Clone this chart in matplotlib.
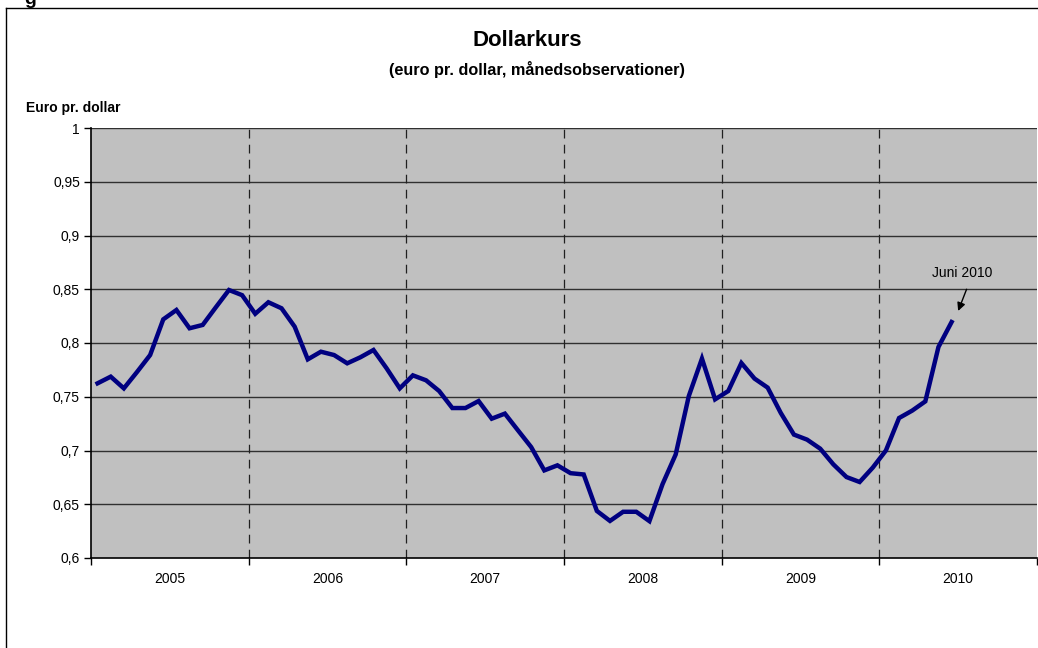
import numpy as np
import matplotlib.pyplot as plt
from matplotlib.lines import Line2D

plt.rcParams['font.family'] = ['Liberation Sans', 'DejaVu Sans']

# Maanedsobservationer, euro pr. dollar (jan 2005 - jun 2010)
kurs_2005 = [0.7625, 0.7687, 0.7578, 0.7730, 0.7888, 0.8220,
             0.8307, 0.8137, 0.8168, 0.8332, 0.8493, 0.8445]
kurs_2006 = [0.8272, 0.8379, 0.8323, 0.8152, 0.7848, 0.7919,
             0.7888, 0.7811, 0.7867, 0.7935, 0.7764, 0.7578]
kurs_2007 = [0.7699, 0.7653, 0.7553, 0.7395, 0.7395, 0.7460,
             0.7296, 0.7343, 0.7187, 0.7032, 0.6815, 0.6862]
kurs_2008 = [0.6789, 0.6777, 0.6438, 0.6345, 0.6430, 0.6430,
             0.6343, 0.6687, 0.6963, 0.7507, 0.7855, 0.7476]
kurs_2009 = [0.7553, 0.7814, 0.7669, 0.7585, 0.7349, 0.7148,
             0.7101, 0.7017, 0.6871, 0.6753, 0.6707, 0.6841]
kurs_2010 = [0.7000, 0.7302, 0.7371, 0.7457, 0.7963, 0.8195]

aar = ['2005', '2006', '2007', '2008', '2009', '2010']
y_ticks = [0.6, 0.65, 0.7, 0.75, 0.8, 0.85, 0.9, 0.95, 1.0]
y_labels = ['0,6', '0,65', '0,7', '0,75', '0,8', '0,85', '0,9', '0,95', '1']

kurs = np.array(kurs_2005 + kurs_2006 + kurs_2007 + kurs_2008 + kurs_2009 + kurs_2010)
maaned = np.arange(kurs.size) + 0.5  # midt i hver kategori

W, H = 1038, 648
fig = plt.figure(figsize=(W / 100, H / 100), dpi=100)
ax = fig.add_axes([91 / W, 1 - 558 / H, (1037 - 91) / W, (558 - 128) / H])

ax.set_facecolor('#C0C0C0')
ax.plot(maaned, kurs, color='#000080', lw=3.2, solid_joinstyle='miter', zorder=3)

ax.set_xlim(0, 72)
ax.set_ylim(0.6, 1.0)

# vandrette gitterlinjer
for v in y_ticks[1:]:
    ax.axhline(v, color='#303030', lw=1, zorder=1)
# stiplede aarsskift
for b in range(12, 72, 12):
    ax.axvline(b, color='#202020', lw=0.9, ls=(0, (7, 5)), zorder=1)

ax.set_yticks(y_ticks)
ax.set_yticklabels(y_labels, fontsize=10)
ax.set_xticks(range(0, 73, 12))
ax.set_xticklabels([])
ax.set_xticks([6 + 12 * i for i in range(len(aar))], minor=True)
ax.set_xticklabels(aar, minor=True, fontsize=10)
ax.tick_params(axis='x', which='minor', length=0, pad=10)
ax.tick_params(axis='both', which='major', length=5, direction='out', width=1, color='black')
ax.tick_params(axis='y', pad=3)

for s in ['top', 'right']:
    ax.spines[s].set_visible(False)
ax.spines['left'].set_linewidth(1.2)
ax.spines['bottom'].set_linewidth(1.2)

# kommentar til sidste observation
ax.text(66.3, 0.8652, 'Juni 2010', ha='center', va='center', fontsize=10)
ax.annotate('', xy=(66.0, 0.8298), xytext=(66.64, 0.850),
            arrowprops=dict(arrowstyle='-|>', color='black', lw=1, mutation_scale=12,
                            shrinkA=0, shrinkB=0))

fig.text(527 / W, 1 - 41 / H, 'Dollarkurs', ha='center', va='center',
         fontsize=16, fontweight='bold')
fig.text(537 / W, 1 - 69 / H, '(euro pr. dollar, månedsobservationer)', ha='center',
         va='center', fontsize=11.7, fontweight='bold')
fig.text(26 / W, 1 - 108 / H, 'Euro pr. dollar', ha='left', va='center',
         fontsize=10, fontweight='bold')
fig.text(24 / W, 1 - 4 / H, 'g', ha='left', va='baseline', fontsize=14, fontweight='bold')

# ramme om diagrammet
fig.add_artist(Line2D([5.5 / W, 5.5 / W], [0, 1 - 8 / H], color='black', lw=1))
fig.add_artist(Line2D([5.5 / W, 1], [1 - 8 / H, 1 - 8 / H], color='black', lw=1))

fig.savefig('out.png', dpi=100)
